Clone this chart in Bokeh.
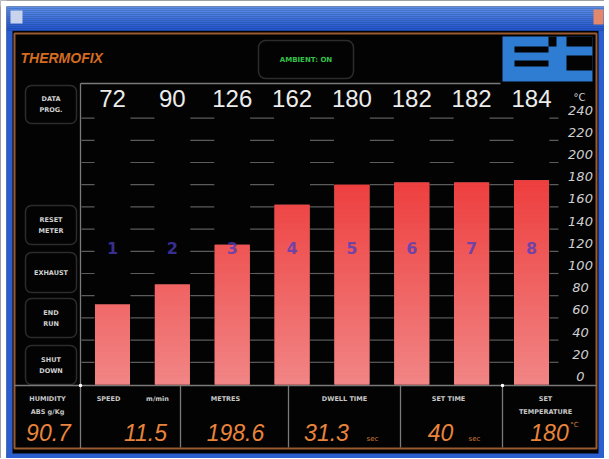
import numpy as np
from bokeh.plotting import figure
from bokeh.models import Range1d, BoxAnnotation
from bokeh.core.properties import value
from bokeh.embed import file_html
from bokeh.resources import INLINE

# ---------------- data ----------------
zones = ["1", "2", "3", "4", "5", "6", "7", "8"]
zone_temps = [72, 90, 126, 162, 180, 182, 182, 184]
y_ticks = [0, 20, 40, 60, 80, 100, 120, 140, 160, 180, 200, 220, 240]
y_tick_labels = [str(t) for t in y_ticks]
y_unit = "°C"

title_text = "THERMOFIX"
status_text = "AMBIENT: ON"

button_lines = [["DATA", "PROG."], ["RESET", "METER"], ["EXHAUST"], ["END", "RUN"], ["SHUT", "DOWN"]]

readout_titles = ["HUMIDITY", "SPEED", "METRES", "DWELL TIME", "SET TIME", "SET"]
readout_subtitles = ["ABS g/Kg", "m/min", "", "", "", "TEMPERATURE"]
readout_values = [90.7, 11.5, 198.6, 31.3, 40, 180]
readout_formats = ["{:.1f}", "{:.1f}", "{:.1f}", "{:.1f}", "{:.0f}", "{:.0f}"]
readout_units = ["", "", "", "sec", "sec", "°C"]

# ---------------- layout (reference pixel geometry) ----------------
W, H = 604, 458
RX0, RX1, RY0, RY1 = 0, W, 0, H
BAR1_X, BAR_PITCH, BAR_W_PX = 112.0, 59.857, 35.0
BASE_Y, PX_PER_DEG = 384.0, 1.11

def bx(refx):
    return 1 + (refx - BAR1_X) / BAR_PITCH

def Y(refy):
    return -np.asarray(refy, dtype=float)

p = figure(width=W, height=H, output_backend="svg", toolbar_location=None,
           x_range=Range1d(bx(RX0), bx(RX1)),
           y_range=Range1d((BASE_Y - RY1) / PX_PER_DEG, (BASE_Y - RY0) / PX_PER_DEG),
           x_axis_location=None, y_axis_location=None, min_border=0,
           background_fill_color="#030303", border_fill_color="#030303",
           outline_line_color=None)
p.extra_x_ranges = {"px": Range1d(RX0, RX1)}
p.extra_y_ranges = {"px": Range1d(-RY1, -RY0)}
p.xgrid.visible = False
p.ygrid.visible = False

PX = dict(x_range_name="px", y_range_name="px")

# ---------------- window chrome ----------------
# page margin (white) around the window
p.quad(left=[0, 0], right=[6, W], top=Y([0, 0]), bottom=Y([H, 6]),
       fill_color="#ffffff", line_color=None, **PX)
strip_tops = np.arange(6, 30, 2)
tb_cols = []
for i, t in enumerate(strip_tops):
    f = i / (len(strip_tops) - 1)
    r = int(92 + (36 - 92) * f); g = int(142 + (86 - 142) * f); b = int(232 + (206 - 232) * f)
    tb_cols.append("#%02x%02x%02x" % (r, g, b))
p.quad(left=6, right=W, top=Y(strip_tops), bottom=Y(strip_tops + 2.2),
       fill_color=tb_cols, line_color=None, **PX)
p.quad(left=[6, 598, 6], right=[12, W, W], top=Y([30, 30, 453]), bottom=Y([H, H, H]),
       fill_color="#2b5fd0", line_color=None, **PX)
p.quad(left=10, right=22, top=Y(10), bottom=Y(23), fill_color="#c9d4ec", line_color=None, **PX)
p.quad(left=593, right=603, top=Y(9), bottom=Y(24), fill_color="#e3886a", line_color=None, **PX)

# orange HMI frame
p.quad(left=14, right=596, top=Y(33), bottom=Y(448), fill_alpha=0,
       line_color="#9c5a30", line_width=2, **PX)

# header
p.text(x=[20], y=Y([57]), text=[title_text], text_font=value("Liberation Sans"),
       text_font_style="bold italic", text_font_size="14px", text_color="#d36b22",
       text_align="left", text_baseline="middle", **PX)
p.add_layout(BoxAnnotation(left=258, right=353, top=-40, bottom=-78, fill_alpha=0,
                           line_color="#8a8a8a", line_width=1.5, border_radius=7, **PX))
p.text(x=[305.5], y=Y([59]), text=[status_text], text_font=value("DejaVu Sans"),
       text_font_style="bold", text_font_size="7px", text_color="#34c24a",
       text_align="center", text_baseline="middle", **PX)

# logo "Et"
LOGO = "#2f7dd3"
p.quad(left=502, right=592, top=Y(36), bottom=Y(81), fill_color=LOGO, line_color=None, **PX)
cut_l = [514, 514, 548, 566, 566]
cut_r = [548, 548, 556, 592, 592]
cut_t = [46, 60, 36, 36, 55]
cut_b = [52, 66, 46, 46, 70]
p.quad(left=cut_l, right=cut_r, top=Y(cut_t), bottom=Y(cut_b), fill_color="#030303",
       line_color=None, **PX)

# ---------------- chart area ----------------
GREY = "#7a7a7a"
p.segment(x0=[80, 80, 14], y0=Y([83, 83, 385]), x1=[500, 80, 596], y1=Y([83, 448, 385]),
          line_color=GREY, line_width=1.3, **PX)

# dashed grid (short dashes in the gaps between zone bars)
xi = np.arange(1, len(zones) + 1)
gap_c = np.arange(0, len(zones) + 1) + 0.5
half = 12.0 / BAR_PITCH
gx0, gx1, gy = [], [], []
for t in y_ticks[1:]:
    for c in gap_c:
        a = max(c - half, bx(81)); b = min(c + half, bx(558))
        gx0.append(a); gx1.append(b); gy.append(t)
p.segment(x0=gx0, x1=gx1, y0=gy, y1=gy, line_color="#5c5c5c", line_width=1.2)

# bars with vertical colour gradient
bw = BAR_W_PX / BAR_PITCH
top_v = max(zone_temps)
def bar_col(v):
    f = min(v / top_v, 1.0)
    r = int(242 + (238 - 242) * f); g = int(134 + (62 - 134) * f)
    return "#%02x%02x%02x" % (r, g, g)
p.vbar(x=xi, top=zone_temps, bottom=0, width=bw, fill_color=bar_col(60), line_color=None)
sl_x, sl_b, sl_t, sl_c = [], [], [], []
step = 2.0
for x, h in zip(xi, zone_temps):
    for b in np.arange(0, h, step):
        t = min(b + step, h)
        sl_x.append(x); sl_b.append(b); sl_t.append(min(t + 0.4, h)); sl_c.append(bar_col((b + t) / 2))
p.vbar(x=sl_x, bottom=sl_b, top=sl_t, width=bw, fill_color=sl_c, line_color=None)

# zone numbers
p.text(x=xi, y=Y(np.full(len(zones), 247.0)), text=zones, text_font=value("DejaVu Sans"),
       text_font_style="bold", text_font_size="16px", text_color="#4a3cc0", text_alpha=0.75,
       text_align="center", text_baseline="middle", x_range_name="default", y_range_name="px")

# actual temperatures above bars
p.text(x=xi, y=Y(np.full(len(zones), 98.0)), text=[str(v) for v in zone_temps],
       text_font=value("Liberation Sans"), text_font_size="24px", text_color="#ececec",
       text_align="center", text_baseline="middle", x_range_name="default", y_range_name="px")

# right-hand temperature scale
p.text(x=np.full(len(y_ticks), 580.0), y=y_ticks, text=y_tick_labels, y_offset=-8,
       text_font=value("DejaVu Sans"), text_font_size="13px", text_font_style="italic",
       text_color="#d0d0d0", text_align="center", text_baseline="middle",
       x_range_name="px", y_range_name="default")
p.text(x=[579], y=Y([97]), text=[y_unit], text_font=value("DejaVu Sans"),
       text_font_size="10px", text_color="#d0d0d0", text_align="center",
       text_baseline="middle", **PX)

# ---------------- left buttons ----------------
btn_top = [85, 205, 252, 298, 345]
btn_bot = [123, 244, 292, 337, 384]
bt_x, bt_y, bt_t = [], [], []
for top, bot, lines in zip(btn_top, btn_bot, button_lines):
    p.add_layout(BoxAnnotation(left=25, right=76, top=-top, bottom=-bot, fill_alpha=0,
                               line_color="#8a8a8a", line_width=1.5, border_radius=6, **PX))
    mid = (top + bot) / 2
    offs = [0.0] if len(lines) == 1 else [-5.5, 5.5]
    for o, s in zip(offs, lines):
        bt_x.append(50.5); bt_y.append(mid + o); bt_t.append(s)
p.text(x=bt_x, y=Y(bt_y), text=bt_t, text_font=value("DejaVu Sans"), text_font_style="bold",
       text_font_size="6.5px", text_color="#d0d0d0", text_align="center",
       text_baseline="middle", **PX)

# ---------------- bottom readouts ----------------
sep_x = [180, 288, 400, 502]
p.segment(x0=sep_x, x1=sep_x, y0=Y(np.full(4, 385)), y1=Y(np.full(4, 447)),
          line_color=GREY, line_width=1.3, **PX)
p.scatter(x=[80, 502], y=Y([385, 385]), size=3.5, fill_color="#ffffff", line_color=None, **PX)

title_x = [47, 108, 225, 344, 448, 545]
sub_x = [47, 157, 0, 0, 0, 545]
sub_y = [411, 398, 0, 0, 0, 411]
p.text(x=title_x, y=Y(np.full(6, 398.0)), text=readout_titles, text_font=value("DejaVu Sans"),
       text_font_style="bold", text_font_size="6.5px", text_color="#c8c8c8",
       text_align="center", text_baseline="middle", **PX)
sx = [sub_x[i] for i in range(6) if readout_subtitles[i]]
sy = [sub_y[i] for i in range(6) if readout_subtitles[i]]
st = [s for s in readout_subtitles if s]
p.text(x=sx, y=Y(sy), text=st, text_font=value("DejaVu Sans"), text_font_style="bold",
       text_font_size="6.5px", text_color="#c8c8c8", text_align="center",
       text_baseline="middle", **PX)

val_x = [48, 145, 235, 326, 440, 549]
val_txt = [f.format(v) for f, v in zip(readout_formats, readout_values)]
p.text(x=val_x, y=Y(np.full(6, 432.0)), text=val_txt, text_font=value("Liberation Sans"),
       text_font_style="italic", text_font_size="23px", text_color="#e8843c",
       text_align="center", text_baseline="middle", **PX)
unit_x = [0, 0, 0, 372, 474, 574]
unit_y = [0, 0, 0, 438, 438, 424]
ux = [unit_x[i] for i in range(6) if readout_units[i]]
uy = [unit_y[i] for i in range(6) if readout_units[i]]
ut = [u for u in readout_units if u]
p.text(x=ux, y=Y(uy), text=ut, text_font=value("DejaVu Sans"), text_font_size="7px",
       text_color="#d07a3a", text_align="center", text_baseline="middle", **PX)

open("out.html", "w").write(file_html(p, INLINE))
